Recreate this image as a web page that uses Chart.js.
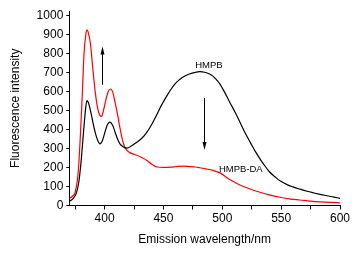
<!DOCTYPE html>
<html>
<head>
<meta charset="utf-8">
<script src="https://cdn.jsdelivr.net/npm/chart.js@4"></script>
<style>
  html, body { margin: 0; padding: 0; background: #fff; }
  #wrap { width: 355px; height: 253px; }
</style>
</head>
<body>
<div id="wrap"><canvas id="myChart"></canvas></div>
<script>
// HMPB (black)
const hmpbX = [370, 373, 376, 378, 380, 382, 384, 385, 386, 388, 390, 392, 394, 396, 398, 400, 402, 404.5, 407, 409, 411, 413, 416, 419, 423, 427.5, 432, 436, 440, 444, 448, 453, 457, 461, 466, 472, 477, 481, 485, 490, 494, 498, 502, 506, 511, 515, 520, 524, 528, 532, 536, 540, 545, 549, 555, 560, 566, 572, 578, 583, 590, 595, 600];
const hmpbY = [22, 35, 65, 120, 230, 380, 520, 553, 545, 500, 440, 385, 345, 325, 340, 380, 420, 439, 420, 385, 350, 325, 308, 302, 315, 333, 357, 387, 427, 474, 525, 579, 618, 649, 675, 693, 702, 705, 702, 690, 670, 640, 596, 548, 490, 439, 375, 330, 285, 246, 210, 178, 150, 130, 110, 98, 86, 75, 66, 59, 50, 44, 38];
// HMPB-DA (red)
const daX = [370, 373, 375, 377, 378, 379.5, 381, 382.5, 384, 385, 386, 388, 390, 392, 394, 396, 397.5, 399, 401, 403, 405, 407, 409, 411, 413, 415, 417, 419, 421, 424, 427.5, 432, 436, 440, 444, 450, 456, 462, 467, 472, 477, 481, 486, 492, 498, 506, 515, 523, 532, 540, 550, 558, 566, 575, 583, 592, 600];
const daY = [38, 50, 70, 140, 211, 380, 580, 800, 900, 926, 915, 850, 720, 600, 515, 475, 470, 500, 555, 600, 614, 595, 540, 480, 410, 350, 310, 290, 280, 272, 265, 252, 237, 218, 204, 201, 202, 206, 207, 205, 203, 199, 193, 185, 172, 138, 108, 88, 70, 56, 42, 34, 29, 23, 19, 16, 14];

const xTicks = [375, 400, 425, 450, 475, 500, 525, 550, 575, 600];
const yTicks = [0, 100, 200, 300, 400, 500, 600, 700, 800, 900, 1000];

const labels = [
  { text: "HMPB", x: 488.6, y: 740 },
  { text: "HMPB-DA", x: 515.7, y: 193 }
];
const arrows = [
  { x: 397.6, from: 636, to: 838 },
  { x: 484.3, from: 567, to: 293 }
];

const font = "'Liberation Sans', Arial, sans-serif";

function pts(xs, ys) {
  return xs.map((x, i) => ({ x: x, y: ys[i] }));
}

const notes = {
  id: "notes",
  afterDatasetsDraw(chart) {
    const c = chart.ctx;
    const sx = chart.scales.x, sy = chart.scales.y;
    c.save();
    c.fillStyle = "#000";
    c.font = "9.5px " + font;
    c.textAlign = "center";
    c.textBaseline = "middle";
    labels.forEach(l => c.fillText(l.text, sx.getPixelForValue(l.x), sy.getPixelForValue(l.y)));
    c.strokeStyle = "#000";
    c.lineWidth = 1;
    arrows.forEach(a => {
      const x = Math.round(sx.getPixelForValue(a.x)) + 0.5;
      const y1 = sy.getPixelForValue(a.from);
      const y2 = sy.getPixelForValue(a.to);
      const dir = y2 < y1 ? 1 : -1;
      c.beginPath();
      c.moveTo(x, y1);
      c.lineTo(x, y2 + dir * 4);
      c.stroke();
      c.beginPath();
      c.moveTo(x, y2);
      c.lineTo(x - 2, y2 + dir * 8);
      c.lineTo(x + 2, y2 + dir * 8);
      c.closePath();
      c.fill();
    });
    c.restore();
  }
};

new Chart(document.getElementById("myChart"), {
  type: "scatter",
  data: {
    datasets: [
      {
        label: "HMPB",
        data: pts(hmpbX, hmpbY),
        showLine: true,
        borderColor: "#000",
        borderWidth: 1.2,
        pointRadius: 0,
        cubicInterpolationMode: "monotone"
      },
      {
        label: "HMPB-DA",
        data: pts(daX, daY),
        showLine: true,
        borderColor: "#ff0000",
        borderWidth: 1.2,
        pointRadius: 0,
        cubicInterpolationMode: "monotone"
      }
    ]
  },
  options: {
    responsive: true,
    maintainAspectRatio: false,
    animation: false,
    layout: { padding: { top: 11, right: 15, left: 0, bottom: 0 } },
    plugins: { legend: { display: false }, tooltip: { enabled: false } },
    scales: {
      x: {
        type: "linear",
        min: 370,
        max: 600,
        afterBuildTicks: s => { s.ticks = xTicks.map(v => ({ value: v })); },
        afterFit: s => { s.height = 47.5; },
        grid: { drawOnChartArea: false, tickLength: 4, color: "#000" },
        border: { color: "#000", width: 1 },
        ticks: {
          color: "#000",
          font: { family: font, size: 12 },
          padding: 2,
          maxRotation: 0,
          autoSkip: false,
          callback: v => (v % 50 === 0 ? String(v) : "")
        },
        title: {
          display: true,
          text: "Emission wavelength/nm",
          color: "#000",
          font: { family: font, size: 12 },
          padding: { top: 0, bottom: 6 }
        }
      },
      y: {
        min: 0,
        max: 1025,
        afterBuildTicks: s => { s.ticks = yTicks.map(v => ({ value: v })); },
        afterFit: s => { s.width = 69.3; },
        grid: { drawOnChartArea: false, tickLength: 3, color: "#000" },
        border: { color: "#000", width: 1 },
        ticks: {
          color: "#000",
          font: { family: font, size: 12 },
          padding: 3,
          autoSkip: false,
          callback: v => String(v)
        },
        title: {
          display: true,
          text: "Fluorescence intensity",
          color: "#000",
          font: { family: font, size: 12 },
          padding: { top: 8, bottom: 0 }
        }
      }
    }
  },
  plugins: [notes]
});
</script>
</body>
</html>
